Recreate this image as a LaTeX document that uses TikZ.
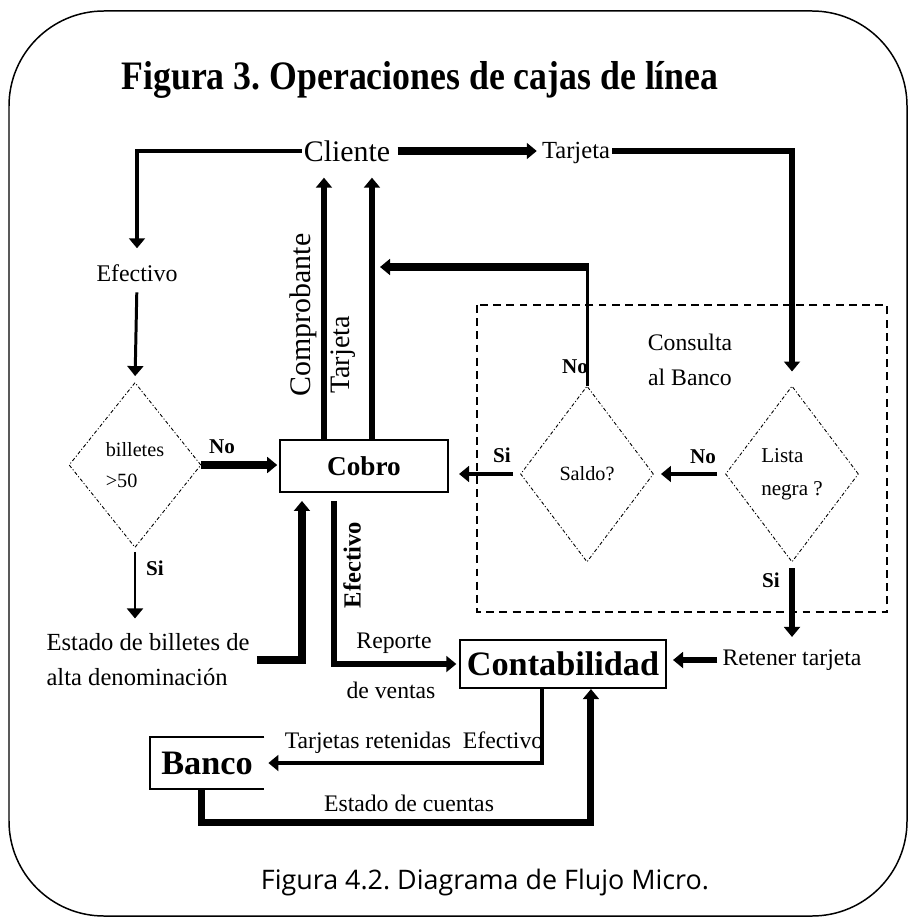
\documentclass[tikz,border=0pt]{standalone}
\usepackage{fontspec}
\setmainfont{Liberation Serif}
\newfontfamily\piefont{Open Sans}
\usepackage{tikz}
\usetikzlibrary{arrows.meta,calc,shapes.geometric,positioning}
\newcommand{\tam}[2]{\fontsize{#1}{#2}\selectfont}
\frenchspacing

\begin{document}
\begin{tikzpicture}[x=0.02cm, y=-0.02cm,
    flecha/.style={-{Triangle[length=5.7pt,width=9pt]}, line width=#1},
    flecha/.default=3.4pt,
    rombo/.style={diamond, draw, line width=0.5pt, dash pattern=on 2pt off 1.2pt on 0.6pt off 1.2pt, inner sep=0pt, align=left, font=\tam{11.5}{18}},
    caja/.style={draw, line width=1.2pt, inner sep=0pt},
    etiq/.style={inner sep=0pt, align=center, font=\tam{13.5}{20}},
    decision/.style={inner sep=0pt, font=\bfseries\tam{12}{14}}]
    \useasboundingbox (0,0) rectangle (912,918);
    % frame
    \draw[line width=0.85pt, rounded corners=1.9cm] (9,11) rectangle (907,916);
    \node[inner sep=0pt, font=\bfseries\tam{23}{26}] (titulo) at (420,80) {\scalebox{0.885}[1]{Figura 3. Operaciones de cajas de línea}};
    % nodes
    \node[etiq, font=\tam{17}{20}] (cliente) at (347,151) {Cliente};
    \node[etiq, font=\tam{14}{16}] (tarjeta) at (576,153) {Tarjeta};
    \node[etiq, font=\tam{13.6}{16}] (efectivo) at (137,273) {Efectivo};
    \node[rombo, minimum width=2.64cm, minimum height=3.3cm] (billetes) at (135,465) {billetes\\>50};
    \node[caja, minimum width=3.36cm, minimum height=1.04cm, font=\bfseries\tam{15.5}{18}] (cobro) at (364,466) {Cobro};
    \node[rombo, minimum width=2.66cm, minimum height=3.52cm] (saldo) at (587,474) {Saldo?};
    \node[rombo, minimum width=2.66cm, minimum height=3.52cm, font=\tam{12}{19}] (lista) at (792,474) {Lista\\negra ?};
    \node[etiq] (consulta) at (690,360) {Consulta\\al Banco};
    \node[etiq, align=left, font=\tam{14}{20}] (estado) at (148,660) {Estado de billetes de\\alta denominación};
    \node[etiq] (retener) at (792,660) {Retener tarjeta};
    \node[caja, minimum width=4.12cm, minimum height=0.96cm, font=\bfseries\tam{19.5}{22}] (conta) at (563,664) {Contabilidad};
    \node[inner sep=0pt, minimum width=2.28cm, minimum height=1.02cm, font=\bfseries\tam{19.5}{22}] (banco) at (207,763) {Banco};
    \draw[line width=1.3pt] (banco.north east) -- (banco.north west) -- (banco.south west) -- (banco.south east);
    % bank query
    \draw[line width=0.75pt, dash pattern=on 4.5pt off 3pt] (477,305) rectangle (887,612);
    % labels
    \node[etiq, rotate=90, font=\tam{17}{18}] (lcomp) at (303,315) {Comprobante};
    \node[etiq, rotate=90, font=\tam{16}{18}] (ltarj) at (343,355) {Tarjeta};
    \node[etiq, rotate=90, font=\bfseries\tam{14}{16}] (lefec) at (352,565) {Efectivo};
    \node[etiq] (lrep) at (394,643) {Reporte};
    \node[etiq] (lven) at (391,690) {de ventas};
    \node[etiq] (lret) at (414,743) {Tarjetas retenidas\ \ Efectivo};
    \node[etiq] (lcue) at (409,803) {Estado de cuentas};
    \node[decision] (no1) at (222,447) {No};
    \node[decision] (si1) at (155,568) {Si};
    \node[decision] (no2) at (575,367) {No};
    \node[decision] (si2) at (502,455) {Si};
    \node[decision] (no3) at (703,457) {No};
    \node[decision] (si3) at (771,580) {Si};
    \node[inner sep=0pt, font=\piefont\tam{15.3}{18}] (pie) at (485,883) {Figura 4.2. Diagrama de Flujo Micro.};
    % client
    \draw[flecha=2.8pt, shorten <=1pt, shorten >=9pt] (cliente.west) -| (efectivo.north);
    \draw[flecha=1.7pt, shorten <=6pt, shorten >=3.4pt] (efectivo.south) -- (billetes.north);
    \draw[flecha=4.5pt, shorten <=4pt, shorten >=2.8pt] (cliente.east) -- (cliente.east -| tarjeta.west);
    \draw[flecha=3.4pt, shorten <=1pt, shorten >=8pt] (tarjeta.east |- cliente.east) -| (lista.north);
    % cash
    \draw[flecha=4.5pt, shorten >=1pt] (billetes.east) -- (billetes.east -| cobro.west);
    \draw[flecha=1.7pt, shorten <=2.3pt, shorten >=8.5pt] (billetes.south) -- (billetes.south |- estado.north);
    \draw[flecha=4.5pt, shorten <=4pt, shorten >=4.5pt] (estado.east) -| ($(cobro.south west)+(23,0)$);
    % back to client
    \coordinate (comp) at ($(cobro.north west)+(45,0)$);
    \coordinate (tarj) at ($(cobro.north west)+(93,0)$);
    \draw[flecha=3.4pt, shorten >=9pt] (comp) -- (comp |- cliente.south);
    \draw[flecha=3.4pt, shorten >=9pt] (tarj) -- (tarj |- cliente.south);
    % card
    \coordinate (retorno) at (380,267);
    \draw[line width=1.7pt] (saldo.north) -- (saldo.north |- retorno);
    \draw[flecha=4.5pt] ([xshift=0.85pt]saldo.north |- retorno) -- (retorno);
    \draw[flecha=2.8pt, shorten <=4.5pt, shorten >=4pt] (lista.west) -- (saldo.east);
    \draw[flecha=2.8pt, shorten <=4pt, shorten >=5.7pt] (saldo.west) -- (saldo.west -| cobro.east);
    \draw[flecha=3.4pt, shorten <=3.4pt, shorten >=7pt] (lista.south) -- (retener.north);
    \draw[flecha=3.4pt, shorten <=2.8pt, shorten >=3.4pt] (retener.west) -- (retener.west -| conta.east);
    % accounting
    \coordinate (efe) at ($(cobro.south west)+(55,0)$);
    \draw[flecha=3.4pt, shorten <=4.5pt, shorten >=1.5pt] (efe) |- (conta.west);
    \coordinate (ret) at ($(conta.south west)+(83,0)$);
    \draw[flecha=2.3pt, shorten >=2.3pt] (ret) |- (banco.east);
    \coordinate (cta) at ($(banco.south west)+(52,0)$);
    \coordinate (ctb) at ($(conta.south west)+(132,0)$);
    \draw[flecha=4pt] (cta) -- ++(0,34) -| (ctb);
\end{tikzpicture}
\end{document}
